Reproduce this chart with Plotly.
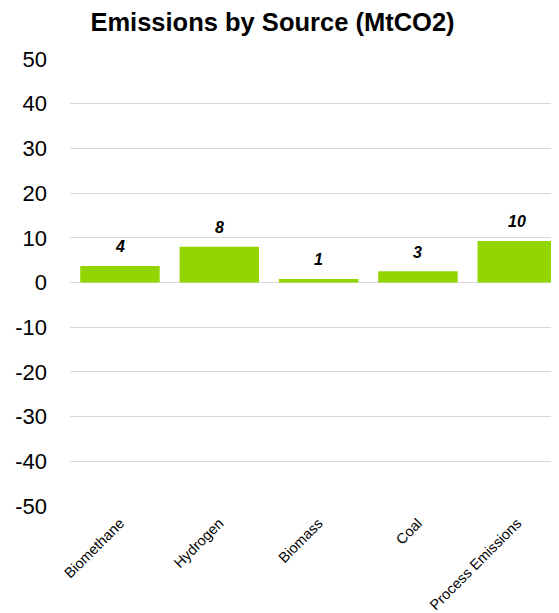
import plotly.graph_objects as go

categories = ["Biomethane", "Hydrogen", "Biomass", "Coal", "Process Emissions"]
values = [3.7, 8.0, 0.8, 2.5, 9.3]
value_labels = ["4", "8", "1", "3", "10"]
y_ticks = [50, 40, 30, 20, 10, 0, -10, -20, -30, -40, -50]

FONT = "Liberation Sans, Arial, sans-serif"
GREEN = "#93D500"
GRID = "#d9d9d9"

fig = go.Figure()
fig.add_trace(go.Bar(
    x=categories, y=values,
    marker=dict(color=GREEN, line=dict(width=0)),
    showlegend=False, hoverinfo="x+y",
))

for c, v, t in zip(categories, values, value_labels):
    fig.add_annotation(
        x=c, y=v, text=f"<b><i>{t}</i></b>", showarrow=False,
        yanchor="middle", xanchor="center", yshift=19,
        font=dict(family=FONT, size=16, color="#000000"),
    )

# page body adds an 8px offset; figure sized to fill the rest of the window
fig.update_layout(
    width=551, height=605,
    margin=dict(l=62, r=0, t=51, b=107),
    paper_bgcolor="white", plot_bgcolor="white",
    bargap=0.2,
    title=dict(
        text="<b>Emissions by Source (MtCO2)</b>",
        x=0.48, xanchor="center", xref="container",
        y=0.976, yanchor="middle", yref="container",
        font=dict(family=FONT, size=25.5, color="#000000"),
    ),
    xaxis=dict(
        range=[-0.503, 4.42],
        tickangle=-45,
        tickfont=dict(family=FONT, size=14.5, color="#000000"),
        showgrid=False, zeroline=False, showline=False,
        ticks="", ticklabelstandoff=5, automargin=False,
    ),
    yaxis=dict(
        range=[-50, 50],
        tickvals=y_ticks,
        ticktext=[str(v) for v in y_ticks],
        tickfont=dict(family=FONT, size=22, color="#000000"),
        showgrid=True, gridcolor=GRID, gridwidth=1,
        zeroline=True, zerolinecolor=GRID, zerolinewidth=1,
        showline=False, ticks="", ticklabelstandoff=22, automargin=False,
    ),
)

fig.write_html("out.html")
